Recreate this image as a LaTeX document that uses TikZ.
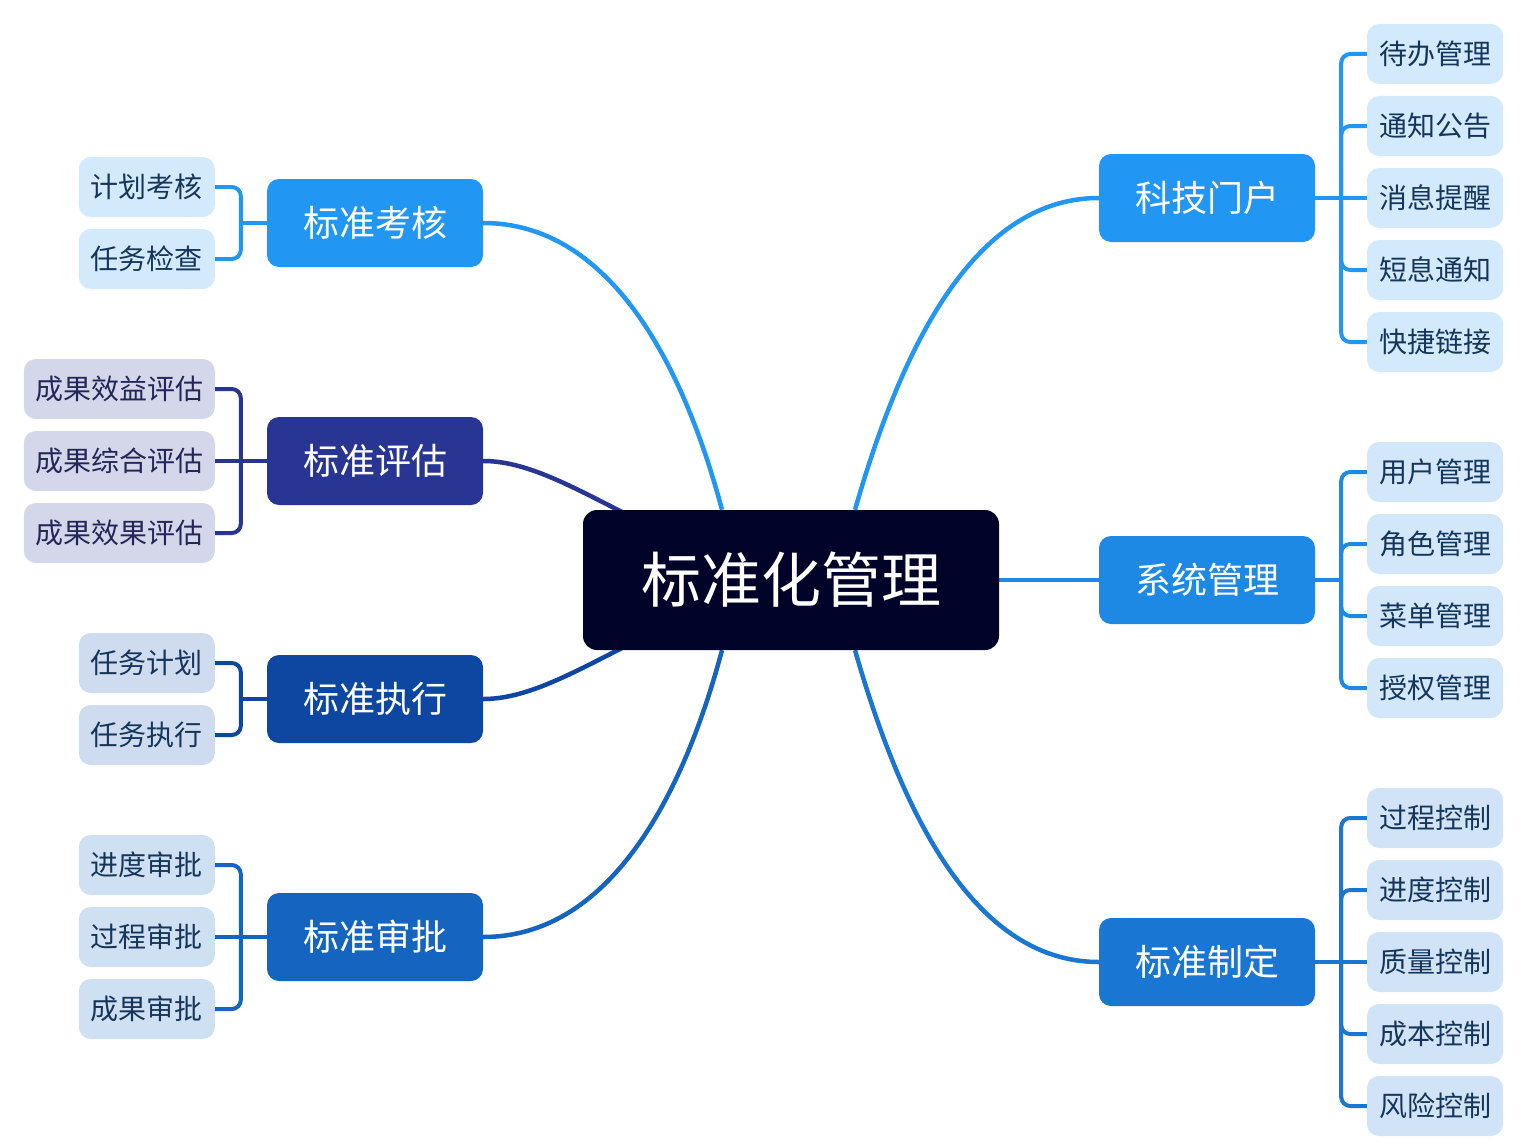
\documentclass[tikz,border=0pt]{standalone}
\usepackage{fontspec}
\newfontfamily\cjk{Noto Sans CJK SC}
\usetikzlibrary{backgrounds}
\definecolor{cRoot}{HTML}{010328}
\definecolor{cBa}{HTML}{2196F3}
\definecolor{cBb}{HTML}{1E88E5}
\definecolor{cBc}{HTML}{1976D2}
\definecolor{cBd}{HTML}{1565C0}
\definecolor{cInd}{HTML}{283593}
\definecolor{cNav}{HTML}{0D47A1}
\definecolor{fBa}{HTML}{D3E9FC}
\definecolor{fBb}{HTML}{D2E7FA}
\definecolor{fBc}{HTML}{D1E3F6}
\definecolor{fBd}{HTML}{D0E0F3}
\definecolor{fInd}{HTML}{D4D7EA}
\definecolor{fNav}{HTML}{CFDBEE}
\definecolor{tLeaf}{HTML}{15355A}
\definecolor{tInd}{HTML}{232757}
\begin{document}
\begin{tikzpicture}[x=1pt,y=-1pt,
  root/.style={fill=cRoot, rounded corners=14pt, minimum width=416pt, minimum height=140pt, text=white, font=\cjk\fontsize{60}{60}\selectfont, inner sep=0pt},
  topic/.style={rounded corners=12pt, minimum width=216pt, minimum height=88pt, text=white, font=\cjk\fontsize{36}{36}\selectfont, inner sep=0pt},
  leaf/.style={rounded corners=12pt, minimum height=60pt, inner sep=0pt, font=\cjk\fontsize{28}{28}\selectfont, text=tLeaf},
  leaffour/.style={leaf, minimum width=136pt},
  leafsix/.style={leaf, minimum width=191pt},
  curve/.style={line width=4.5pt},
  br/.style={line width=4pt, rounded corners=9pt}]
\useasboundingbox (0,0) rectangle (1527,1148);

% central and topics
\node[root] (c) at (791,580) {标准化管理};
\node[topic, fill=cBa] (t1) at (1207,198) {科技门户};
\node[topic, fill=cBb] (t2) at (1207,580) {系统管理};
\node[topic, fill=cBc] (t3) at (1207,962) {标准制定};
\node[topic, fill=cBa] (t4) at (375,223) {标准考核};
\node[topic, fill=cInd] (t5) at (375,461) {标准评估};
\node[topic, fill=cNav] (t6) at (375,699) {标准执行};
\node[topic, fill=cBd] (t7) at (375,937) {标准审批};

% right leaves
\node[leaffour, fill=fBa] (l1a) at (1435,54) {待办管理};
\node[leaffour, fill=fBa] (l1b) at (1435,126) {通知公告};
\node[leaffour, fill=fBa] (l1c) at (1435,198) {消息提醒};
\node[leaffour, fill=fBa] (l1d) at (1435,270) {短息通知};
\node[leaffour, fill=fBa] (l1e) at (1435,342) {快捷链接};

\node[leaffour, fill=fBb] (l2a) at (1435,472) {用户管理};
\node[leaffour, fill=fBb] (l2b) at (1435,544) {角色管理};
\node[leaffour, fill=fBb] (l2c) at (1435,616) {菜单管理};
\node[leaffour, fill=fBb] (l2d) at (1435,688) {授权管理};

\node[leaffour, fill=fBc] (l3a) at (1435,818) {过程控制};
\node[leaffour, fill=fBc] (l3b) at (1435,890) {进度控制};
\node[leaffour, fill=fBc] (l3c) at (1435,962) {质量控制};
\node[leaffour, fill=fBc] (l3d) at (1435,1034) {成本控制};
\node[leaffour, fill=fBc] (l3e) at (1435,1106) {风险控制};

% left leaves
\node[leaffour, fill=fBa, anchor=east] (l4a) at (215,187) {计划考核};
\node[leaffour, fill=fBa, anchor=east] (l4b) at (215,259) {任务检查};

\node[leafsix, fill=fInd, text=tInd, anchor=east] (l5a) at (215,389) {成果效益评估};
\node[leafsix, fill=fInd, text=tInd, anchor=east] (l5b) at (215,461) {成果综合评估};
\node[leafsix, fill=fInd, text=tInd, anchor=east] (l5c) at (215,533) {成果效果评估};

\node[leaffour, fill=fNav, anchor=east] (l6a) at (215,663) {任务计划};
\node[leaffour, fill=fNav, anchor=east] (l6b) at (215,735) {任务执行};

\node[leaffour, fill=fBd, anchor=east] (l7a) at (215,865) {进度审批};
\node[leaffour, fill=fBd, anchor=east] (l7b) at (215,937) {过程审批};
\node[leaffour, fill=fBd, anchor=east] (l7c) at (215,1009) {成果审批};

\begin{scope}[on background layer]
  % main curves
  \draw[curve, cBa] ([xshift=64pt]c.north) .. controls (898,360) and (969,198) .. (t1.west);
  \draw[curve, cBb] (c.east) -- (t2.west);
  \draw[curve, cBc] ([xshift=64pt]c.south) .. controls (898,800) and (969,962) .. (t3.west);
  \draw[curve, cBa] ([xshift=-69pt]c.north) .. controls (682,360) and (608,223) .. (t4.east);
  \draw[curve, cInd] (t5.east) .. controls (560,461) and (640,540) .. (c.center);
  \draw[curve, cNav] (t6.east) .. controls (560,699) and (640,620) .. (c.center);
  \draw[curve, cBd] ([xshift=-69pt]c.south) .. controls (682,800) and (608,937) .. (t7.east);
\end{scope}

% right brackets
\draw[br, cBa] (t1.east) -- (l1c.west);
\coordinate (j1) at ([xshift=26pt]t1.east);
\foreach \n in {a,b,d,e} \draw[br, cBa] (j1) |- (l1\n.west);

\draw[br, cBb] (t2.east) -- ++(26,0) coordinate (j2);
\foreach \n in {a,b,c,d} \draw[br, cBb] (j2) |- (l2\n.west);

\draw[br, cBc] (t3.east) -- (l3c.west);
\coordinate (j3) at ([xshift=26pt]t3.east);
\foreach \n in {a,b,d,e} \draw[br, cBc] (j3) |- (l3\n.west);

% left brackets
\draw[br, cBa] (t4.west) -- ++(-26,0) coordinate (j4);
\foreach \n in {a,b} \draw[br, cBa] (j4) |- (l4\n.east);

\draw[br, cInd] (t5.west) -- (l5b.east);
\coordinate (j5) at ([xshift=-26pt]t5.west);
\foreach \n in {a,c} \draw[br, cInd] (j5) |- (l5\n.east);

\draw[br, cNav] (t6.west) -- ++(-26,0) coordinate (j6);
\foreach \n in {a,b} \draw[br, cNav] (j6) |- (l6\n.east);

\draw[br, cBd] (t7.west) -- (l7b.east);
\coordinate (j7) at ([xshift=-26pt]t7.west);
\foreach \n in {a,c} \draw[br, cBd] (j7) |- (l7\n.east);
\end{tikzpicture}
\end{document}
